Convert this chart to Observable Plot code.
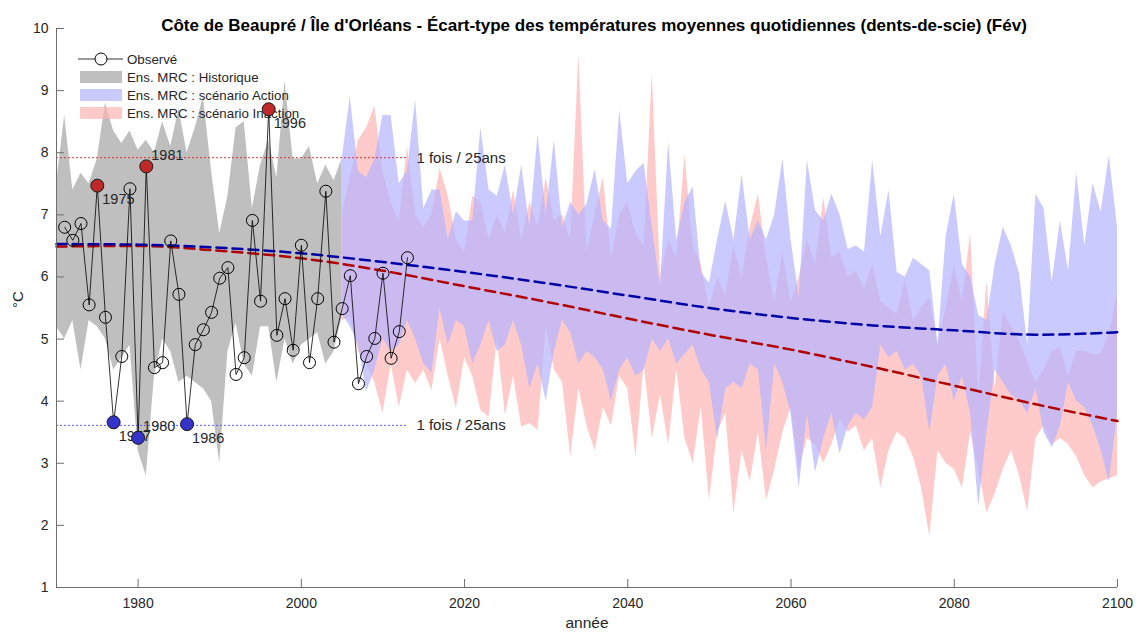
<!DOCTYPE html>
<html><head><meta charset="utf-8">
<script src="https://cdn.jsdelivr.net/npm/d3@7"></script>
<script src="https://cdn.jsdelivr.net/npm/@observablehq/plot@0.6"></script>
<style>
body{margin:0;background:#fff;}
#chart{width:1138px;height:634px;}
</style></head><body>
<div id="chart"></div>
<script>
const titleText = "Côte de Beaupré / Île d'Orléans - Écart-type des températures moyennes quotidiennes (dents-de-scie) (Fév)";
const xLabel = "année";
const yLabel = "°C";
const thresholdLabel = "1 fois / 25ans";
const legendLabels = ["Observé", "Ens. MRC : Historique", "Ens. MRC : scénario Action", "Ens. MRC : scénario Inaction"];
const xTicks = [1980, 2000, 2020, 2040, 2060, 2080, 2100];
const yTicks = [1, 2, 3, 4, 5, 6, 7, 8, 9, 10];

// Observed 1971-2013
const obsYears = d3.range(1971, 2014);
const obsValues = [6.80, 6.59, 6.86, 5.55, 7.47, 5.35, 3.66, 4.72, 7.42, 3.41, 7.78, 4.54, 4.62, 6.58, 5.72, 3.63, 4.91, 5.15, 5.43, 5.98, 6.15, 4.43, 4.70, 6.91, 5.61, 8.70, 5.06, 5.65, 4.82, 6.51, 4.62, 5.65, 7.38, 4.95, 5.49, 6.02, 4.28, 4.72, 5.01, 6.06, 4.69, 5.12, 6.31];
const highYears = [1975, 1981, 1996];
const lowYears = [1977, 1980, 1986];
const labelsAbove = [1981, 1980];
const thresholdHigh = 7.92;
const thresholdLow = 3.61;
const thresholdEnd = 2013;

// Historical ensemble envelope 1970-2005
const histYears = d3.range(1970, 2006);
const histUpper = [7.5, 8.6, 7.4, 7.67, 7.5, 7.9, 8.8, 8.35, 8.15, 8.35, 8.04, 8.2, 8.0, 8.5, 8.1, 8.7, 8.0, 8.4, 8.9, 7.7, 6.7, 7.3, 8.4, 8.5, 7.1, 7.8, 8.2, 7.6, 9.15, 7.9, 7.9, 8.1, 7.5, 7.8, 7.55, 7.9];
const histLower = [5.2, 5.0, 5.3, 4.5, 5.3, 5.2, 5.0, 4.5, 4.7, 4.9, 3.2, 2.8, 4.4, 5.0, 4.8, 4.3, 4.4, 4.3, 4.2, 4.0, 3.0, 4.8, 5.25, 4.6, 4.4, 5.2, 5.2, 4.3, 5.0, 4.6, 4.9, 5.0, 5.1, 4.6, 4.8, 5.35];

// Scenario envelopes 2005-2100
const futYears = d3.range(2005, 2101);
const actionUpper = [7.9, 8.9, 7.7, 7.6, 7.9, 8.6, 8.6, 7.5, 7.7, 8.85,
  7.1, 7.4, 7.4, 6.6, 7.05, 6.9, 6.9, 8.4, 7.4, 7.3,
  7.8, 7.0, 7.8, 6.8, 8.3, 7.0, 8.2, 6.8, 7.2, 7.0,
  7.17, 7.73, 6.9, 6.77, 8.68, 7.5, 7.7, 7.83, 6.8, 5.85,
  8.17, 6.59, 7.2, 7.45, 6.07, 5.9, 6.6, 7.22, 6.59, 7.65,
  6.59, 6.9, 6.6, 7.0, 7.9, 6.6, 5.67, 7.88, 7.07, 6.9,
  7.33, 7.0, 6.44, 6.5, 6.4, 7.88, 6.65, 7.39, 6.07, 6.0,
  6.3, 6.2, 6.1, 4.91, 6.65, 7.33, 6.2, 6.0, 5.38, 5.3,
  6.2, 6.8, 6.5, 6.05, 4.9, 7.33, 7.1, 5.92, 6.9, 6.1,
  7.68, 6.5, 7.5, 7.05, 7.95, 6.8];
const actionLower = [5.4, 5.2, 4.9, 4.15, 4.5, 5.0, 4.8, 4.9, 5.3, 5.0,
  4.6, 4.45, 5.5, 4.9, 5.3, 5.2, 4.6, 4.9, 5.3, 4.8,
  4.9, 5.3, 4.9, 4.2, 4.6, 4.0, 4.8, 5.3, 5.1, 4.6,
  4.8, 4.7, 4.5, 4.0, 4.5, 4.7, 4.4, 4.5, 5.0, 4.8,
  5.0, 4.6, 4.75, 4.9, 4.5, 4.3, 3.37, 4.2, 4.3, 4.2,
  4.6, 4.5, 3.2, 4.6, 4.3, 3.8, 2.6, 3.8, 2.85, 3.4,
  3.8, 3.15, 3.6, 3.8, 3.7, 3.9, 4.9, 4.7, 4.8, 4.5,
  4.6, 4.4, 3.5, 4.4, 4.6, 4.0, 4.4, 3.8, 2.3, 3.5,
  4.5, 4.3, 4.1, 4.0, 3.8, 4.2, 3.5, 3.25, 3.6, 4.3,
  4.0, 3.9, 3.6, 3.2, 2.7, 3.8];
const inactionUpper = [7.0, 7.6, 8.2, 8.4, 8.75, 7.7, 7.2, 6.9, 8.1, 7.0,
  6.8, 7.0, 7.75, 7.3, 6.6, 6.4, 7.3, 7.2, 6.6, 7.0,
  6.7, 7.4, 6.6, 7.2, 6.8, 7.6, 6.9, 7.0, 6.6, 9.58,
  6.4, 7.0, 7.6, 6.3, 7.0, 7.2, 6.7, 6.5, 9.29, 6.0,
  6.6, 6.3, 7.97, 6.5, 6.2, 5.5, 6.0, 5.7, 6.5, 6.0,
  6.8, 7.33, 6.3, 5.6, 6.4, 5.6, 6.0, 6.6, 6.2, 7.28,
  6.3, 6.4, 6.0, 6.1, 5.8, 6.2, 5.6, 5.5, 5.4, 5.96,
  5.3, 5.5, 5.67, 4.91, 5.5, 6.18, 5.6, 6.7, 4.06, 5.93,
  4.2, 5.44, 5.2, 4.97, 4.63, 4.3, 4.51, 4.8, 4.86, 4.4,
  4.8, 4.8, 4.75, 4.75, 5.1, 5.72];
const inactionLower = [5.3, 5.35, 4.8, 4.6, 4.3, 3.8, 4.6, 3.9, 4.5, 4.28,
  4.5, 4.17, 5.0, 4.4, 3.88, 4.7, 4.4, 3.85, 3.74, 5.0,
  3.77, 4.4, 3.58, 3.64, 3.53, 5.2, 4.5, 4.3, 3.1, 4.2,
  3.6, 3.2, 3.9, 3.6, 4.4, 4.2, 3.1, 4.6, 3.4, 4.1,
  3.3, 4.5, 3.4, 3.0, 3.9, 2.4, 3.5, 3.8, 2.2, 3.2,
  2.7, 3.5, 2.4, 2.9, 3.5, 3.9, 2.9, 3.4, 3.3, 3.0,
  3.3, 3.7, 3.5, 3.6, 3.2, 3.4, 2.6, 3.2, 3.5, 3.4,
  3.1, 2.6, 1.82, 3.2, 3.0, 2.9, 2.6, 3.5, 2.9, 2.2,
  2.5, 2.9, 3.2, 2.8, 2.22, 3.4, 3.6, 3.3, 3.4, 3.3,
  3.1, 2.8, 2.6, 2.7, 2.75, 2.8];

// Ensemble trend (dashed) lines
const trendYears = [1970, 1980, 1990, 2000, 2010, 2020, 2030, 2040, 2050, 2060, 2070, 2080, 2090, 2100];
const trendAction = [6.53, 6.52, 6.47, 6.38, 6.24, 6.08, 5.9, 5.7, 5.5, 5.34, 5.22, 5.14, 5.07, 5.11];
const trendInaction = [6.49, 6.5, 6.42, 6.3, 6.1, 5.85, 5.6, 5.33, 5.07, 4.83, 4.55, 4.25, 3.95, 3.68];

// ---- tables
const obs = obsYears.map((y, i) => ({year: y, v: obsValues[i]}));
const highs = obs.filter(d => highYears.includes(d.year));
const lows = obs.filter(d => lowYears.includes(d.year));
const records = highs.concat(lows);
const hist = histYears.map((y, i) => ({year: y, lo: histLower[i], hi: histUpper[i]}));
const fut = futYears.map((y, i) => ({year: y, alo: actionLower[i], ahi: actionUpper[i], ilo: inactionLower[i], ihi: inactionUpper[i]}));
const trend = trendYears.map((y, i) => ({year: y, a: trendAction[i], r: trendInaction[i]}));

const FONT = "'Liberation Sans', Arial, Helvetica, sans-serif";
const GREY = "#bfbfbf", BLUE = "#b3b3ff", PINK = "#ffb3b3", BANDOP = 0.7;
const TXT = "#262626", AXIS = "#6e6e6e";

function legend() {
  const g = d3.create("svg:g").attr("font-family", FONT).attr("font-size", 13.3).attr("fill", TXT).attr("text-anchor", "start");
  const x0 = 80, x1 = 122, tx = 127, y0 = 59, step = 18;
  g.append("line").attr("x1", x0 - 2).attr("x2", x1 + 1).attr("y1", y0).attr("y2", y0).attr("stroke", "#000").attr("stroke-width", 0.8);
  g.append("circle").attr("cx", (x0 + x1) / 2).attr("cy", y0).attr("r", 6).attr("fill", "white").attr("stroke", "#000").attr("stroke-width", 1);
  const swatches = [[GREY, 1], [BLUE, BANDOP], [PINK, BANDOP]];
  swatches.forEach(([c, o], i) => {
    g.append("rect").attr("x", x0).attr("y", y0 + step * (i + 1) - 6).attr("width", x1 - x0).attr("height", 12).attr("fill", c).attr("fill-opacity", o);
  });
  legendLabels.forEach((t, i) => {
    g.append("text").attr("x", tx).attr("y", y0 + step * i).attr("dy", "0.35em").text(t);
  });
  return g.node();
}

const chart = Plot.plot({
  width: 1138, height: 634,
  marginLeft: 56, marginRight: 21, marginTop: 28, marginBottom: 47,
  x: {domain: [1970, 2100]},
  y: {domain: [1, 10]},
  style: {fontFamily: FONT, fontSize: "14px", color: TXT, background: "white", overflow: "visible"},
  marks: [
    Plot.areaY(hist, {x: "year", y1: "lo", y2: "hi", fill: GREY}),
    Plot.areaY(fut, {x: "year", y1: "ilo", y2: "ihi", fill: PINK, fillOpacity: BANDOP}),
    Plot.areaY(fut, {x: "year", y1: "alo", y2: "ahi", fill: BLUE, fillOpacity: BANDOP}),
    legend,
    Plot.ruleY([thresholdHigh], {y: d => d, x1: 1970, x2: thresholdEnd, stroke: "#e03030", strokeWidth: 1, strokeDasharray: "2,2"}),
    Plot.ruleY([thresholdLow], {y: d => d, x1: 1970, x2: thresholdEnd, stroke: "#5a5aff", strokeWidth: 1, strokeDasharray: "2,2"}),
    Plot.text([thresholdHigh, thresholdLow], {y: d => d, x: thresholdEnd, text: () => thresholdLabel, dx: 9, textAnchor: "start", fill: TXT, fontSize: 15}),
    Plot.line(trend, {x: "year", y: "r", stroke: "#b00000", strokeWidth: 2.5, strokeDasharray: "10,6", curve: "monotone-x"}),
    Plot.line(trend, {x: "year", y: "a", stroke: "#0000a8", strokeWidth: 2.5, strokeDasharray: "10,6", curve: "monotone-x"}),
    Plot.line(obs, {x: "year", y: "v", stroke: "#000", strokeWidth: 0.8}),
    Plot.dot(obs.filter(d => !highYears.includes(d.year) && !lowYears.includes(d.year)), {x: "year", y: "v", r: 6, stroke: "#000", fill: "none", strokeWidth: 1}),
    Plot.text(records.filter(d => !labelsAbove.includes(d.year)), {x: "year", y: "v", text: d => String(d.year), dx: 5, dy: 14, textAnchor: "start", fill: TXT, fontSize: 14.5}),
    Plot.text(records.filter(d => labelsAbove.includes(d.year)), {x: "year", y: "v", text: d => String(d.year), dx: 5, dy: -11, textAnchor: "start", fill: TXT, fontSize: 14.5}),
    Plot.dot(highs, {x: "year", y: "v", r: 6.5, fill: "#be2a2a", stroke: "#1a1a1a", strokeWidth: 1}),
    Plot.dot(lows, {x: "year", y: "v", r: 6.5, fill: "#3434c8", stroke: "#1a1a1a", strokeWidth: 1}),
    // axes
    Plot.ruleX([1970], {stroke: AXIS, strokeWidth: 1}),
    Plot.ruleY([1], {stroke: AXIS, strokeWidth: 1}),
    Plot.ruleY(yTicks, {y: d => d, x1: 1970, x2: 1970, insetRight: -8, stroke: AXIS}),
    Plot.ruleX(xTicks, {x: d => d, y1: 1, y2: 1, insetTop: -8, stroke: AXIS}),
    Plot.axisY({ticks: yTicks, tickSize: 0, tickPadding: 8, label: null, fontSize: 14}),
    Plot.axisX({ticks: xTicks, tickSize: 0, tickPadding: 11, tickFormat: d => String(d), label: null, fontSize: 14}),
    Plot.text([yLabel], {frameAnchor: "left", text: d => d, rotate: -90, dx: -38, fontSize: 15, fill: TXT}),
    Plot.text([xLabel], {frameAnchor: "bottom", text: d => d, dy: 40, fontSize: 15.5, fill: TXT}),
    Plot.text([titleText], {frameAnchor: "top", text: d => d, dx: 7, dy: -10, fontSize: 17, fontWeight: "bold", fill: "#000"})
  ]
});
document.getElementById("chart").appendChild(chart);
</script>
</body></html>
